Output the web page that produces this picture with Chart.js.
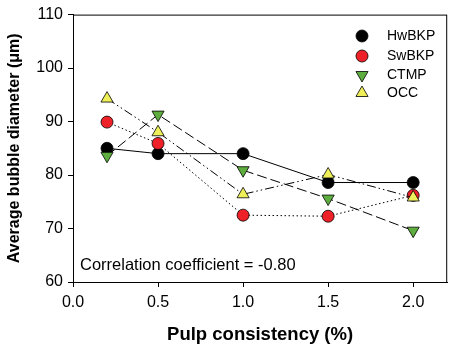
<!DOCTYPE html>
<html><head><meta charset="utf-8">
<script src="https://cdn.jsdelivr.net/npm/chart.js@4/dist/chart.umd.min.js"></script>
<style>html,body{margin:0;padding:0;background:#fff}#wrap{width:455px;height:350px}</style>
</head><body><div id="wrap"><canvas id="c" width="455" height="350"></canvas></div>
<script>
const consistency = [0.2, 0.5, 1.0, 1.5, 2.0];
const hwbkp = [85.0, 84.0, 84.0, 78.6, 78.6];
const swbkp = [89.9, 85.9, 72.5, 72.3, 76.2];
const ctmp  = [83.6, 91.3, 80.9, 75.6, 69.6];
const occ   = [94.3, 88.0, 76.4, 80.1, 75.8];
const seriesNames = ['HwBKP', 'SwBKP', 'CTMP', 'OCC'];
const xTicks = [0.0, 0.5, 1.0, 1.5, 2.0];
const yTicks = [60, 70, 80, 90, 100, 110];
const annotation = 'Correlation coefficient = -0.80';

const FONT = '"Liberation Sans", Arial, sans-serif';
const styles = [
  {bg:'#000000', ps:'circle', rot:0, dash:[], r:6},
  {bg:'#EE2128', ps:'circle', rot:0, dash:[1.5,2.5], r:6},
  {bg:'#5DAE3F', ps:'triangle', rot:180, dash:[10,4], r:7},
  {bg:'#EFEF5A', ps:'triangle', rot:0, dash:[9,3,1.5,3,1.5,3], r:7}
];
const values = [hwbkp, swbkp, ctmp, occ];
const datasets = values.map((v,i)=>({
  label: seriesNames[i],
  data: consistency.map((x,j)=>({x:x, y:v[j]})),
  showLine: true,
  borderColor: '#000',
  borderWidth: 1,
  borderDash: styles[i].dash,
  pointStyle: styles[i].ps,
  pointRotation: styles[i].rot,
  pointRadius: styles[i].r,
  pointBackgroundColor: styles[i].bg,
  pointBorderColor: '#000',
  pointBorderWidth: 0.8,
  order: 4 - i
}));

const extras = {
  id: 'extras',
  afterDatasetsDraw(chart) {
    const ctx = chart.ctx, a = chart.chartArea;
    ctx.save();
    ctx.strokeStyle = '#000'; ctx.lineWidth = 1;
    ctx.strokeRect(a.left + 0.5, a.top + 0.5, a.right - a.left - 1, a.bottom - a.top);
    // legend
    const lx = 362, ly = [36, 56, 75, 93];
    seriesNames.forEach((n,i)=>{
      ctx.fillStyle = styles[i].bg; ctx.strokeStyle = '#000'; ctx.lineWidth = 0.8;
      Chart.helpers.drawPoint(ctx, {pointStyle: styles[i].ps, rotation: styles[i].rot, radius: styles[i].r, borderWidth: 0.8}, lx, ly[i]);
      ctx.fillStyle = '#000';
      ctx.font = '14px ' + FONT;
      ctx.textAlign = 'left'; ctx.textBaseline = 'middle';
      ctx.fillText(n, 387, ly[i]);
    });
    ctx.font = '16.5px ' + FONT;
    ctx.textAlign = 'left'; ctx.textBaseline = 'middle';
    ctx.fillStyle = '#000';
    ctx.fillText(annotation, 80, 265);
    ctx.restore();
  }
};

new Chart(document.getElementById('c'), {
  type: 'scatter',
  data: { datasets },
  options: {
    responsive: false,
    animation: false,
    layout: { padding: { left: 0, right: 5, top: 10, bottom: 0 } },
    plugins: { legend: { display: false }, tooltip: { enabled: false } },
    scales: {
      x: {
        type: 'linear', min: 0, max: 2.2,
        afterFit(s) { s.height = 68; },
        afterBuildTicks(s) { s.ticks = xTicks.map(v=>({value:v})); },
        ticks: { color: '#000', font: { family: FONT, size: 16 }, padding: 6,
                 callback: v => Number(v).toFixed(1), maxRotation: 0, autoSkip: false },
        grid: { drawOnChartArea: false, drawTicks: true, tickLength: 5, color: '#000' },
        border: { display: true, color: '#000', width: 1 },
        title: { display: true, text: 'Pulp consistency (%)', color: '#000',
                 font: { family: FONT, size: 18.5, weight: 'bold' }, padding: { top: 1 } }
      },
      y: {
        type: 'linear', min: 60, max: 110,
        afterFit(s) { s.width = 73; },
        afterBuildTicks(s) { s.ticks = yTicks.map(v=>({value:v})); },
        ticks: { color: '#000', font: { family: FONT, size: 16 }, padding: 5 },
        grid: { drawOnChartArea: false, drawTicks: true, tickLength: 5, color: '#000' },
        border: { display: true, color: '#000', width: 1 },
        title: { display: true, text: 'Average bubble diameter (\u03bcm)', color: '#000',
                 font: { family: FONT, size: 16, weight: 'bold' }, padding: { bottom: 0, top: 5 } }
      }
    }
  },
  plugins: [extras]
});
</script></body></html>
